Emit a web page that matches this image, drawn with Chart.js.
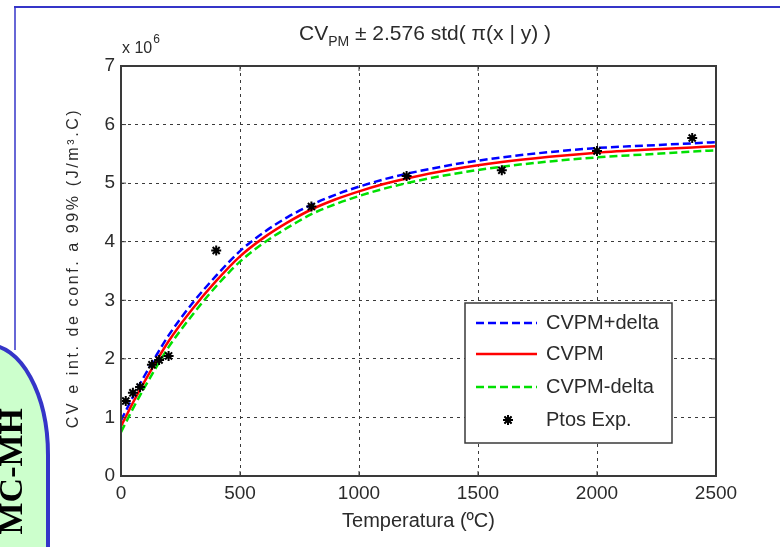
<!DOCTYPE html>
<html>
<head>
<meta charset="utf-8">
<script src="https://cdn.jsdelivr.net/npm/chart.js@4"></script>
<style>
  html, body { margin: 0; padding: 0; background: #fff; }
  canvas { display: block; }
</style>
</head>
<body>
<canvas id="chart" width="780" height="547"></canvas>
<script>
// temperatures (ºC) for the fitted curves
const temps = [0, 25, 50, 100, 150, 200, 300, 400, 500, 600, 700, 800, 900, 1000, 1100, 1200, 1400, 1600, 1800, 2000, 2200, 2400, 2500];
// CV values in units of 1e6 J/m3.C
const cvPlus  = [0.95, 1.15, 1.35, 1.72, 2.07, 2.40, 2.95, 3.42, 3.84, 4.16, 4.42, 4.63, 4.80, 4.94, 5.06, 5.16, 5.32, 5.44, 5.53, 5.60, 5.64, 5.68, 5.70];
const cvPM    = [0.85, 1.05, 1.25, 1.62, 1.97, 2.30, 2.85, 3.33, 3.75, 4.07, 4.33, 4.55, 4.72, 4.86, 4.98, 5.08, 5.24, 5.36, 5.45, 5.52, 5.57, 5.61, 5.63];
const cvMinus = [0.75, 0.95, 1.15, 1.52, 1.87, 2.20, 2.75, 3.24, 3.66, 3.98, 4.24, 4.47, 4.64, 4.78, 4.90, 5.00, 5.16, 5.28, 5.37, 5.44, 5.49, 5.54, 5.56];
// experimental points
const expT  = [20, 50, 80, 130, 160, 200, 400, 800, 1200, 1600, 2000, 2400];
const expCV = [1.28, 1.42, 1.52, 1.90, 1.98, 2.05, 3.85, 4.60, 5.12, 5.22, 5.55, 5.77];

const xTicks = [0, 500, 1000, 1500, 2000, 2500];
const yTicks = [0, 1, 2, 3, 4, 5, 6, 7];
const seriesNames = ['CVPM+delta', 'CVPM', 'CVPM-delta', 'Ptos Exp.'];

const FONT = '"Liberation Sans", Arial, sans-serif';
const TXT = '#2b2b2b';

const pts = (xs, ys) => xs.map((x, i) => ({ x: x, y: ys[i] }));

// page decoration: blue frame and the green tab on the left
const decor = {
    id: 'decor',
    beforeDraw(chart) {
        const ctx = chart.ctx;
        ctx.save();
        ctx.fillStyle = '#fff';
        ctx.fillRect(0, 0, chart.width, chart.height);
        ctx.strokeStyle = '#3535c8';
        ctx.lineWidth = 2;
        ctx.beginPath();
        ctx.moveTo(14, 7); ctx.lineTo(780, 7);
        ctx.stroke();
        ctx.lineWidth = 1.5;
        ctx.beginPath();
        ctx.moveTo(15, 7); ctx.lineTo(15, 350);
        ctx.stroke();

        ctx.beginPath();
        ctx.moveTo(-12, 345);
        ctx.ellipse(-12, 455, 60, 110, 0, -Math.PI / 2, 0);
        ctx.lineTo(48, 560);
        ctx.lineTo(-20, 560);
        ctx.closePath();
        ctx.fillStyle = '#ccffcc';
        ctx.fill();
        ctx.lineWidth = 4;
        ctx.strokeStyle = '#3535c8';
        ctx.stroke();

        ctx.translate(22, 408);
        ctx.rotate(-Math.PI / 2);
        ctx.fillStyle = '#000';
        ctx.font = 'bold 34px "Liberation Serif", "Times New Roman", serif';
        ctx.textAlign = 'right';
        ctx.textBaseline = 'alphabetic';
        ctx.fillText('MC-MH', 0, 0);
        ctx.restore();
    },
    afterDatasetsDraw(chart) {
        const ctx = chart.ctx;
        const a = chart.chartArea;
        const xs = chart.scales.x, ys = chart.scales.y;
        ctx.save();
        // axes box
        ctx.strokeStyle = '#3a3a3a';
        ctx.lineWidth = 2;
        ctx.strokeRect(a.left, a.top, a.right - a.left, a.bottom - a.top);
        // inward ticks
        ctx.lineWidth = 1;
        ctx.beginPath();
        xTicks.forEach(v => {
            const px = xs.getPixelForValue(v);
            ctx.moveTo(px, a.bottom); ctx.lineTo(px, a.bottom - 5);
            ctx.moveTo(px, a.top); ctx.lineTo(px, a.top + 5);
        });
        yTicks.forEach(v => {
            const py = ys.getPixelForValue(v);
            ctx.moveTo(a.left, py); ctx.lineTo(a.left + 5, py);
            ctx.moveTo(a.right, py); ctx.lineTo(a.right - 5, py);
        });
        ctx.stroke();

        // title with subscript
        ctx.fillStyle = TXT;
        ctx.textBaseline = 'alphabetic';
        ctx.textAlign = 'left';
        const parts = [['CV', 0, 21], ['PM', 6, 14], [' \u00b1 2.576 std( \u03c0(x | y) )', 0, 21]];
        let total = 0;
        parts.forEach(p => { ctx.font = p[2] + 'px ' + FONT; total += ctx.measureText(p[0]).width; });
        let x = 425 - total / 2;
        parts.forEach(p => {
            ctx.font = p[2] + 'px ' + FONT;
            ctx.fillText(p[0], x, 40 + p[1]);
            x += ctx.measureText(p[0]).width;
        });

        // exponent label
        ctx.font = '16px ' + FONT;
        ctx.fillText('x 10', 122, 53);
        const w = ctx.measureText('x 10').width;
        ctx.font = '12px ' + FONT;
        ctx.fillText('6', 122 + w + 1, 43);

        // y axis title, spaced out along its length
        ctx.save();
        ctx.translate(74, 268);
        ctx.rotate(-Math.PI / 2);
        ctx.font = '16px ' + FONT;
        ctx.letterSpacing = '2.6px';
        ctx.textAlign = 'center';
        ctx.textBaseline = 'middle';
        ctx.fillText('CV e int. de conf. a 99% (J/m\u00b3.C)', 0, 0);
        ctx.restore();

        // legend
        const L = { x: 465, y: 303, w: 207, h: 140 };
        ctx.fillStyle = '#fff';
        ctx.fillRect(L.x, L.y, L.w, L.h);
        ctx.strokeStyle = '#3a3a3a';
        ctx.lineWidth = 1.5;
        ctx.strokeRect(L.x, L.y, L.w, L.h);
        const rows = [323, 354, 387, 420];
        chart.data.datasets.forEach((ds, i) => {
            const ry = rows[i];
            if (ds.showLine) {
                ctx.save();
                ctx.strokeStyle = ds.borderColor;
                ctx.lineWidth = ds.borderWidth;
                ctx.setLineDash(ds.borderDash || []);
                ctx.beginPath();
                ctx.moveTo(476, ry); ctx.lineTo(537, ry);
                ctx.stroke();
                ctx.restore();
            } else {
                Chart.helpers.drawPoint(ctx, {
                    pointStyle: ds.pointStyle, radius: ds.pointRadius, rotation: 0,
                    borderWidth: ds.borderWidth
                }, 508, ry);
                ctx.strokeStyle = ds.borderColor;
                ctx.lineWidth = ds.borderWidth;
                ctx.stroke();
            }
            ctx.fillStyle = TXT;
            ctx.font = '20px ' + FONT;
            ctx.textAlign = 'left';
            ctx.textBaseline = 'middle';
            ctx.fillText(ds.label, 546, ry);
        });
        ctx.restore();
    }
};

new Chart(document.getElementById('chart'), {
    type: 'scatter',
    data: {
        datasets: [
            { label: seriesNames[0], data: pts(temps, cvPlus), showLine: true, borderColor: '#0000ff', borderWidth: 2.5, borderDash: [8, 4], pointRadius: 0, cubicInterpolationMode: 'monotone', order: 3 },
            { label: seriesNames[1], data: pts(temps, cvPM), showLine: true, borderColor: '#ff0000', borderWidth: 2.5, pointRadius: 0, cubicInterpolationMode: 'monotone', order: 2 },
            { label: seriesNames[2], data: pts(temps, cvMinus), showLine: true, borderColor: '#00e000', borderWidth: 2.5, borderDash: [8, 4], pointRadius: 0, cubicInterpolationMode: 'monotone', order: 1 },
            { label: seriesNames[3], data: pts(expT, expCV), showLine: false, pointStyle: 'star', pointRadius: 5, borderWidth: 2, borderColor: '#000', backgroundColor: '#000', order: 0 }
        ]
    },
    options: {
        responsive: false,
        animation: false,
        devicePixelRatio: 1,
        layout: { padding: { left: 0, top: 66, right: 64, bottom: 0 } },
        plugins: { legend: { display: false }, tooltip: { enabled: false } },
        scales: {
            x: {
                type: 'linear', min: 0, max: 2500,
                afterFit: s => { s.height = 71; },
                afterBuildTicks: s => { s.ticks = xTicks.map(v => ({ value: v })); },
                ticks: { font: { family: FONT, size: 19 }, color: TXT, padding: 6, maxRotation: 0, callback: v => String(v) },
                grid: { color: '#3a3a3a', lineWidth: 1, drawTicks: false },
                border: { display: false, dash: [3, 4] },
                title: { display: true, text: 'Temperatura (\u00baC)', font: { family: FONT, size: 20 }, color: TXT, padding: { top: 0, bottom: 14 } }
            },
            y: {
                type: 'linear', min: 0, max: 7,
                afterFit: s => { s.width = 121; },
                afterBuildTicks: s => { s.ticks = yTicks.map(v => ({ value: v })); },
                ticks: { font: { family: FONT, size: 19 }, color: TXT, padding: 6 },
                grid: { color: '#3a3a3a', lineWidth: 1, drawTicks: false },
                border: { display: false, dash: [3, 4] }
            }
        }
    },
    plugins: [decor]
});
</script>
</body>
</html>
